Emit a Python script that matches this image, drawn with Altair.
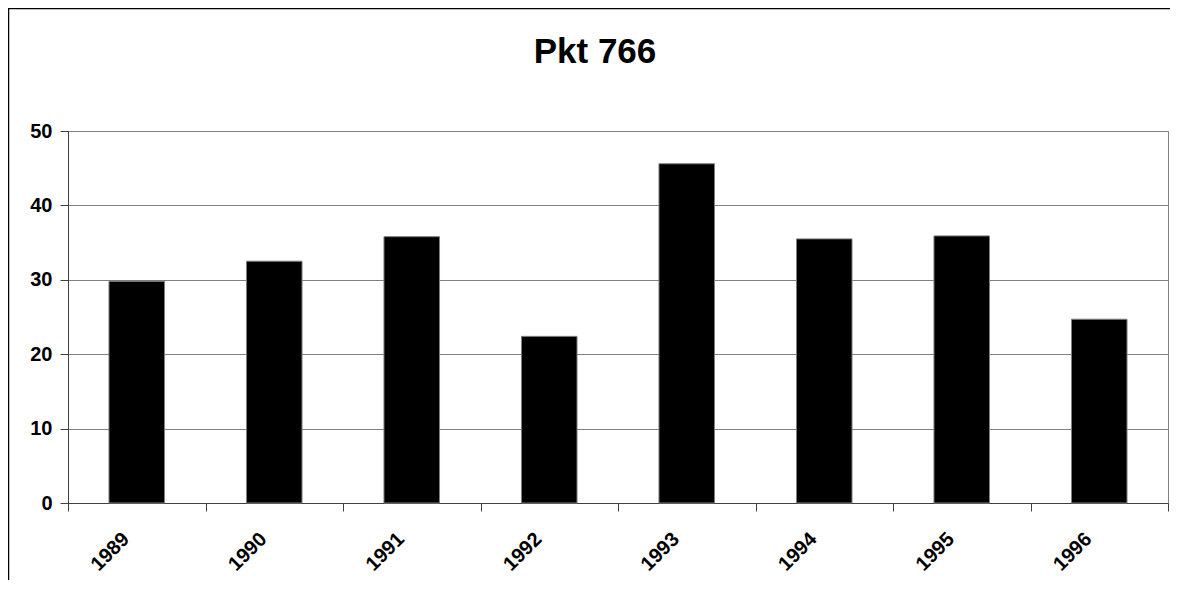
import altair as alt
import pandas as pd

title_text = "Pkt 766"
years = ["1989", "1990", "1991", "1992", "1993", "1994", "1995", "1996"]
values = [29.8, 32.5, 35.8, 22.4, 45.6, 35.5, 35.9, 24.7]
y_ticks = [0, 10, 20, 30, 40, 50]

df = pd.DataFrame({"year": years, "value": values})
FONT = "Liberation Sans"

bars = alt.Chart(df).mark_bar(
    color="black", stroke="#808080", strokeWidth=1,
    width=alt.RelativeBandSize(0.404)
).encode(
    x=alt.X("year:N", sort=years, title=None,
            scale=alt.Scale(paddingInner=0, paddingOuter=0),
            axis=alt.Axis(labelAngle=-45, labelAlign="right", labelBaseline="alphabetic",
                          labelFont=FONT, labelFontSize=20, labelFontWeight="bold",
                          labelColor="black", labelPadding=29, labelOffset=-7,
                          tickBand="extent", tickSize=8, tickColor="#404040",
                          domainColor="#404040", grid=False)),
    y=alt.Y("value:Q", title=None,
            scale=alt.Scale(domain=[0, 50], nice=False),
            axis=alt.Axis(values=y_ticks, labelFont=FONT, labelFontSize=20,
                          labelFontWeight="bold", labelColor="black", labelPadding=8,
                          tickSize=8, tickColor="#404040", domainColor="#404040",
                          grid=True, gridColor="#808080", gridWidth=1))
)

title = alt.Chart(pd.DataFrame({"t": [title_text]})).mark_text(
    font=FONT, fontSize=35, fontWeight="bold", color="black",
    align="center", baseline="alphabetic"
).encode(text="t:N", x=alt.value(527), y=alt.value(-68))

frame = alt.Chart(pd.DataFrame({"t": [0]})).mark_rect(
    fillOpacity=0, stroke="black", strokeWidth=1.5, clip=False
).encode(x=alt.value(-59.5), y=alt.value(-122.5), x2=alt.value(1300), y2=alt.value(700))

chart = alt.layer(frame, bars, title).properties(
    width=1100, height=372,
    autosize=alt.AutoSizeParams(type="none"),
    padding={"left": 60, "top": 123, "right": 2, "bottom": 77},
    background="white"
).configure_view(stroke="#808080", strokeWidth=1)

chart.save("out.html", embed_options={"renderer": "svg", "actions": False})
